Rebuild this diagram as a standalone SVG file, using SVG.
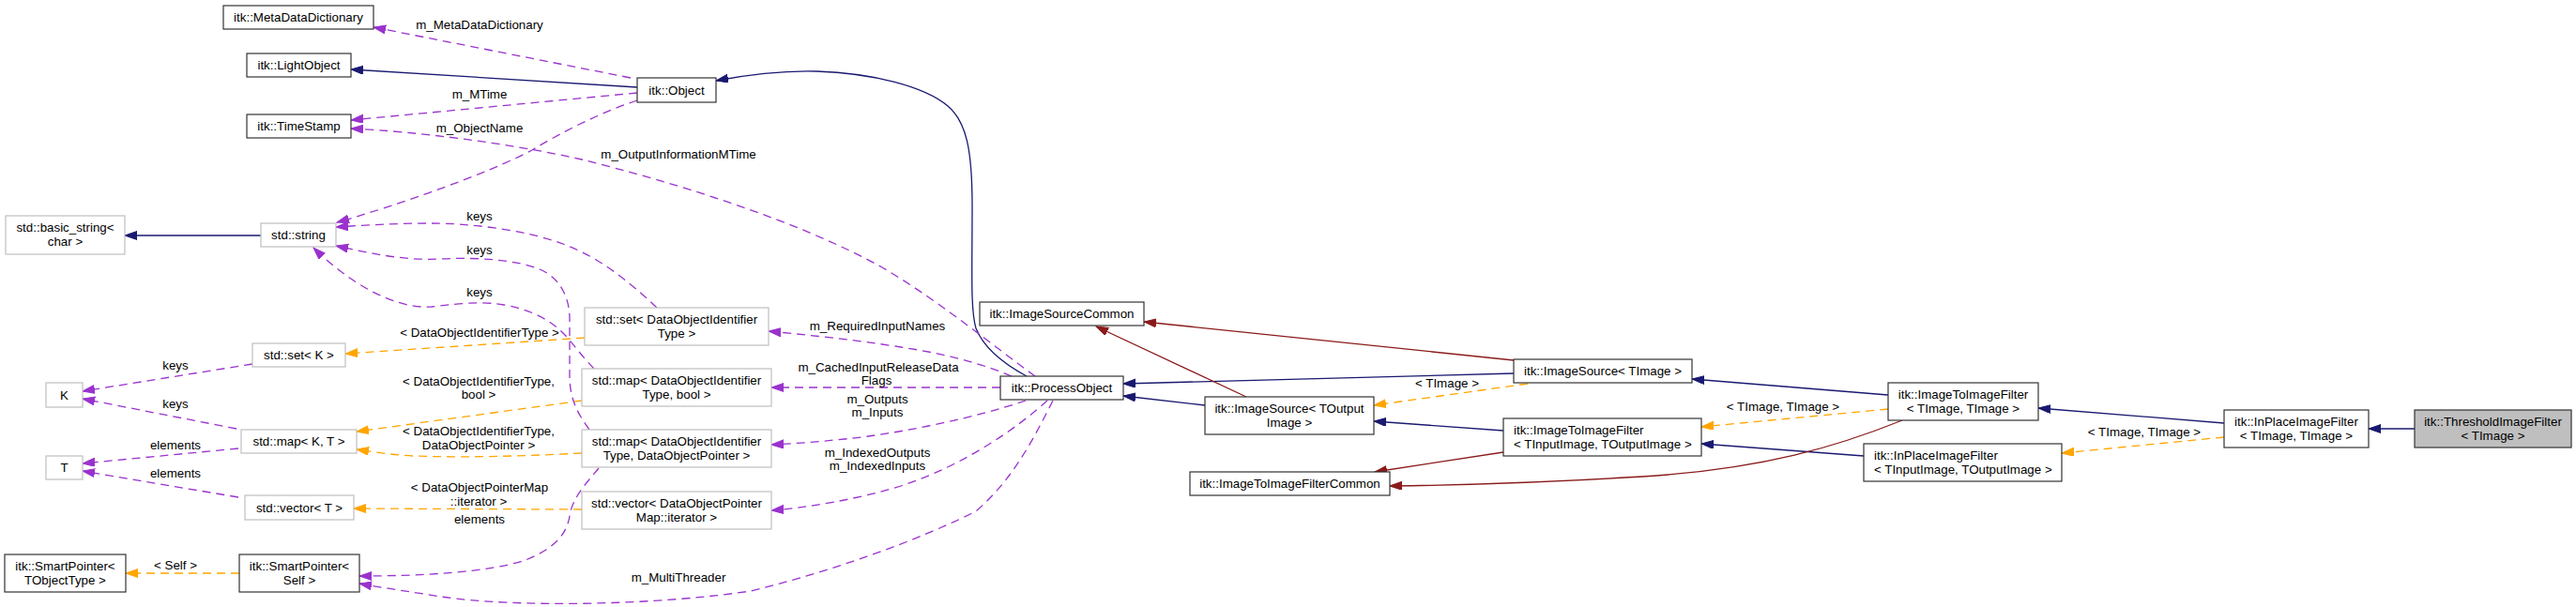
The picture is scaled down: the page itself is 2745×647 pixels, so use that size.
<svg xmlns="http://www.w3.org/2000/svg" width="2745" height="647" viewBox="0 0 2745 647">
<style>
text{font-family:"Liberation Sans",Arial,Helvetica,sans-serif;font-size:13.33px;fill:#000}
.m{text-anchor:middle}
.node rect{fill:#fff;stroke:#333;stroke-width:1.2}
.node.gray rect{stroke:#bfbfbf}
.node.hl rect{fill:#bfbfbf;stroke:#333}
.e{fill:none;stroke-width:1.3}
.inh{stroke:#191970}
.prv{stroke:#8b1a1a}
.tpl{stroke:#ffa500;stroke-dasharray:9,6}
.use{stroke:#9a32cd;stroke-dasharray:9,6}
</style>
<defs>
<marker id="aB" markerUnits="userSpaceOnUse" markerWidth="14" markerHeight="10" refX="13" refY="4.5" orient="auto"><path d="M0,0L13,4.5L0,9z" fill="#191970" stroke="#191970"/></marker>
<marker id="aR" markerUnits="userSpaceOnUse" markerWidth="14" markerHeight="10" refX="13" refY="4.5" orient="auto"><path d="M0,0L13,4.5L0,9z" fill="#8b1a1a" stroke="#8b1a1a"/></marker>
<marker id="aO" markerUnits="userSpaceOnUse" markerWidth="14" markerHeight="10" refX="13" refY="4.5" orient="auto"><path d="M0,0L13,4.5L0,9z" fill="#ffa500" stroke="#ffa500"/></marker>
<marker id="aP" markerUnits="userSpaceOnUse" markerWidth="14" markerHeight="10" refX="13" refY="4.5" orient="auto"><path d="M0,0L13,4.5L0,9z" fill="#9a32cd" stroke="#9a32cd"/></marker>
</defs>
<rect width="2745" height="647" fill="#fff"/>
<g id="connectors">
<!-- inheritance -->
<path class="e inh" marker-end="url(#aB)" d="M679,93L374,74"/>
<path class="e inh" marker-end="url(#aB)" d="M278,251L133,251"/>
<path class="e inh" marker-end="url(#aB)" d="M1094,401C1070,388 1048,370 1040,350C1034,330 1036,290 1036,220C1036,160 1030,130 1010,113C985,92 930,78 870,76C830,75 795,80 763,86"/>
<path class="e inh" marker-end="url(#aB)" d="M1613,398L1197,409"/>
<path class="e inh" marker-end="url(#aB)" d="M1284,432L1197,422"/>
<path class="e inh" marker-end="url(#aB)" d="M1602,459L1464,449"/>
<path class="e inh" marker-end="url(#aB)" d="M2012,421L1803,404"/>
<path class="e inh" marker-end="url(#aB)" d="M1986,486L1813,473"/>
<path class="e inh" marker-end="url(#aB)" d="M2370,451L2172,435"/>
<path class="e inh" marker-end="url(#aB)" d="M2573,457L2524,457"/>
<path class="e prv" marker-end="url(#aR)" d="M1328,423L1168,348"/>
<path class="e prv" marker-end="url(#aR)" d="M1613,384L1219,343"/>
<path class="e prv" marker-end="url(#aR)" d="M1602,482L1465,503"/>
<path class="e prv" marker-end="url(#aR)" d="M2027,448C1960,475 1880,500 1750,508C1650,514 1560,517 1481,518"/>
<!-- template instances -->
<path class="e tpl" marker-end="url(#aO)" d="M1628,409L1464,432"/>
<text class="m" x="1542" y="413">&lt; TImage &gt;</text>
<path class="e tpl" marker-end="url(#aO)" d="M2012,436L1813,455"/>
<text class="m" x="1900" y="438">&lt; TImage, TImage &gt;</text>
<path class="e tpl" marker-end="url(#aO)" d="M2370,466L2197,483"/>
<text class="m" x="2285" y="465">&lt; TImage, TImage &gt;</text>
<path class="e tpl" marker-end="url(#aO)" d="M623,360L368,377"/>
<text class="m" x="511" y="359">&lt; DataObjectIdentifierType &gt;</text>
<path class="e tpl" marker-end="url(#aO)" d="M620,427L380,460"/>
<text class="m" x="510" y="411">&lt; DataObjectIdentifierType,</text>
<text class="m" x="510" y="425">bool &gt;</text>
<path class="e tpl" marker-end="url(#aO)" d="M620,483C560,486 500,488 440,486C420,485 400,482 380,479"/>
<text class="m" x="510" y="464">&lt; DataObjectIdentifierType,</text>
<text class="m" x="510" y="478.5">DataObjectPointer &gt;</text>
<path class="e tpl" marker-end="url(#aO)" d="M620,543L377,542"/>
<text class="m" x="511" y="524">&lt; DataObjectPointerMap</text>
<text class="m" x="510" y="539">::iterator &gt;</text>
<path class="e tpl" marker-end="url(#aO)" d="M255,611L134,611"/>
<text class="m" x="187" y="607">&lt; Self &gt;</text>
<!-- usage -->
<path class="e use" marker-end="url(#aP)" d="M672,83L398,29"/>
<text class="m" x="511" y="31">m_MetaDataDictionary</text>
<path class="e use" marker-end="url(#aP)" d="M679,99L374,128"/>
<text class="m" x="511" y="105">m_MTime</text>
<path class="e use" marker-end="url(#aP)" d="M679,107C640,120 600,140 567,160C520,185 420,220 359,237"/>
<text class="m" x="511" y="141">m_ObjectName</text>
<path class="e use" marker-end="url(#aP)" d="M1103,401C1060,370 1000,320 940,285C850,235 720,195 620,170C540,152 440,140 374,137"/>
<text class="m" x="723" y="169">m_OutputInformationMTime</text>
<path class="e use" marker-end="url(#aP)" d="M700,328C670,300 640,275 600,260C560,245 500,238 460,238C420,238 390,240 358,242"/>
<text class="m" x="511" y="235">keys</text>
<path class="e use" marker-end="url(#aP)" d="M628,458C615,440 607,425 607,400L607,340C607,315 595,295 575,287C550,277 510,274 470,276C430,278 395,270 358,262"/>
<text class="m" x="511" y="271">keys</text>
<path class="e use" marker-end="url(#aP)" d="M633,393C620,380 610,365 600,355C585,340 565,330 537,325C510,320 480,325 460,327C420,330 370,300 334,264"/>
<text class="m" x="511" y="316">keys</text>
<path class="e use" marker-end="url(#aP)" d="M269,388L88,417"/>
<text class="m" x="187" y="393.5">keys</text>
<path class="e use" marker-end="url(#aP)" d="M252,457L88,425"/>
<text class="m" x="187" y="435">keys</text>
<path class="e use" marker-end="url(#aP)" d="M254,478L88,494"/>
<text class="m" x="187" y="479">elements</text>
<path class="e use" marker-end="url(#aP)" d="M254,530L88,502"/>
<text class="m" x="187" y="509">elements</text>
<path class="e use" marker-end="url(#aP)" d="M1078,401C1040,385 1000,376 960,370C910,362 860,357 819,353"/>
<text class="m" x="935" y="352">m_RequiredInputNames</text>
<path class="e use" marker-end="url(#aP)" d="M1066,413L822,413"/>
<text class="m" x="936" y="395.5">m_CachedInputReleaseData</text>
<text class="m" x="934" y="409.5">Flags</text>
<path class="e use" marker-end="url(#aP)" d="M1093,427C1040,445 960,462 900,468C870,471 845,473 822,474"/>
<text class="m" x="935" y="429.5">m_Outputs</text>
<text class="m" x="935" y="444">m_Inputs</text>
<path class="e use" marker-end="url(#aP)" d="M1116,427C1085,455 1030,495 960,518C910,533 860,541 822,544"/>
<text class="m" x="935" y="487">m_IndexedOutputs</text>
<text class="m" x="935" y="501">m_IndexedInputs</text>
<path class="e use" marker-end="url(#aP)" d="M1122,427C1100,470 1080,510 1040,545C980,575 890,608 800,630C700,645 550,648 470,636C440,631 410,627 383,622"/>
<text class="m" x="723" y="620">m_MultiThreader</text>
<path class="e use" marker-end="url(#aP)" d="M638,499C625,515 610,530 607,550C604,570 590,585 560,597C520,610 450,614 383,614"/>
<text class="m" x="511" y="558">elements</text>
</g>
<g id="n_MetaDataDictionary" class="node"><rect x="238" y="6" width="160" height="25"/><text class="m" x="318" y="23">itk::MetaDataDictionary</text></g>
<g id="n_LightObject" class="node"><rect x="263" y="57" width="111" height="25"/><text class="m" x="318.5" y="74">itk::LightObject</text></g>
<g id="n_TimeStamp" class="node"><rect x="263" y="122" width="111" height="25"/><text class="m" x="318.5" y="139">itk::TimeStamp</text></g>
<g id="n_Object" class="node"><rect x="679" y="83" width="84" height="26"/><text class="m" x="721" y="100.5">itk::Object</text></g>
<g id="n_basic_string" class="node gray"><rect x="6" y="230" width="127" height="41"/><text class="m" x="69.5" y="247">std::basic_string&lt;</text><text class="m" x="69.5" y="262">char &gt;</text></g>
<g id="n_string" class="node gray"><rect x="278" y="238" width="80" height="25"/><text class="m" x="318" y="255">std::string</text></g>
<g id="n_setK" class="node gray"><rect x="269" y="366" width="99" height="25"/><text class="m" x="318.5" y="383">std::set&lt; K &gt;</text></g>
<g id="n_K" class="node gray"><rect x="49" y="408" width="39" height="26"/><text class="m" x="68.5" y="425.5">K</text></g>
<g id="n_mapKT" class="node gray"><rect x="257" y="458" width="123" height="25"/><text class="m" x="318.5" y="475">std::map&lt; K, T &gt;</text></g>
<g id="n_T" class="node gray"><rect x="49" y="486" width="39" height="25"/><text class="m" x="68.5" y="503">T</text></g>
<g id="n_vectorT" class="node gray"><rect x="261" y="528" width="116" height="26"/><text class="m" x="319" y="545.5">std::vector&lt; T &gt;</text></g>
<g id="n_SmartPointerTObjectType" class="node"><rect x="5" y="591" width="129" height="40"/><text class="m" x="69.5" y="607.5">itk::SmartPointer&lt;</text><text class="m" x="69.5" y="622.5">TObjectType &gt;</text></g>
<g id="n_SmartPointerSelf" class="node"><rect x="255" y="591" width="128" height="40"/><text class="m" x="319" y="607.5">itk::SmartPointer&lt;</text><text class="m" x="319" y="622.5">Self &gt;</text></g>
<g id="n_setDOIT" class="node gray"><rect x="623" y="328" width="196" height="40"/><text class="m" x="721" y="344.5">std::set&lt; DataObjectIdentifier</text><text class="m" x="721" y="359.5">Type &gt;</text></g>
<g id="n_mapDOITbool" class="node gray"><rect x="620" y="393" width="202" height="40"/><text class="m" x="721" y="409.5">std::map&lt; DataObjectIdentifier</text><text class="m" x="721" y="424.5">Type, bool &gt;</text></g>
<g id="n_mapDOITDOP" class="node gray"><rect x="620" y="458" width="202" height="40"/><text class="m" x="721" y="474.5">std::map&lt; DataObjectIdentifier</text><text class="m" x="721" y="489.5">Type, DataObjectPointer &gt;</text></g>
<g id="n_vectorDOPM" class="node gray"><rect x="620" y="524" width="202" height="40"/><text class="m" x="721" y="540.5">std::vector&lt; DataObjectPointer</text><text class="m" x="721" y="555.5">Map::iterator &gt;</text></g>
<g id="n_ProcessObject" class="node"><rect x="1066" y="401" width="131" height="25"/><text class="m" x="1131.5" y="418">itk::ProcessObject</text></g>
<g id="n_ImageSourceCommon" class="node"><rect x="1044" y="322" width="175" height="25"/><text class="m" x="1131.5" y="339">itk::ImageSourceCommon</text></g>
<g id="n_ImageSourceTOutputImage" class="node"><rect x="1284" y="423" width="180" height="40"/><text class="m" x="1374" y="439.5">itk::ImageSource&lt; TOutput</text><text class="m" x="1374" y="454.5">Image &gt;</text></g>
<g id="n_ImageToImageFilterCommon" class="node"><rect x="1268" y="503" width="213" height="25"/><text class="m" x="1374.5" y="520">itk::ImageToImageFilterCommon</text></g>
<g id="n_ImageSourceTImage" class="node"><rect x="1613" y="383" width="190" height="25"/><text class="m" x="1708" y="400">itk::ImageSource&lt; TImage &gt;</text></g>
<g id="n_ImageToImageFilterTInTOut" class="node"><rect x="1602" y="446" width="211" height="40"/><text x="1613" y="462.5">itk::ImageToImageFilter</text><text x="1613" y="477.5">&lt; TInputImage, TOutputImage &gt;</text></g>
<g id="n_ImageToImageFilterTImage" class="node"><rect x="2012" y="408" width="160" height="40"/><text class="m" x="2092" y="424.5">itk::ImageToImageFilter</text><text class="m" x="2092" y="439.5">&lt; TImage, TImage &gt;</text></g>
<g id="n_InPlaceImageFilterTInTOut" class="node"><rect x="1986" y="473" width="211" height="40"/><text x="1997" y="489.5">itk::InPlaceImageFilter</text><text x="1997" y="504.5">&lt; TInputImage, TOutputImage &gt;</text></g>
<g id="n_InPlaceImageFilterTImage" class="node"><rect x="2370" y="437" width="154" height="40"/><text class="m" x="2447" y="453.5">itk::InPlaceImageFilter</text><text class="m" x="2447" y="468.5">&lt; TImage, TImage &gt;</text></g>
<g id="n_ThresholdImageFilter" class="node hl"><rect x="2573" y="437" width="167" height="40"/><text class="m" x="2656.5" y="453.5">itk::ThresholdImageFilter</text><text class="m" x="2656.5" y="468.5">&lt; TImage &gt;</text></g>
</svg>
